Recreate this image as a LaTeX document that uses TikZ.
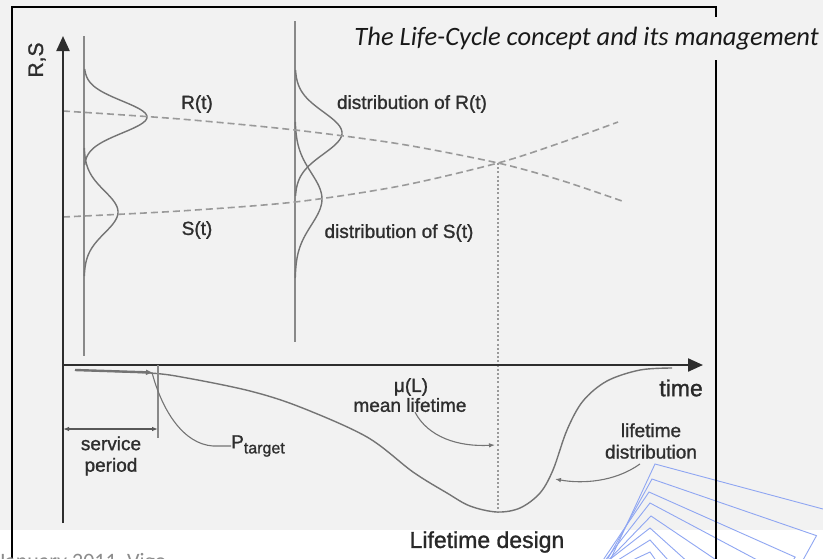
\documentclass[tikz,border=0pt]{standalone}
\usepackage{fontspec}
\setmainfont{Liberation Sans}
\newfontfamily\chartfont[FakeBold=1.2]{Liberation Sans}
\newfontfamily\calib{Carlito}
\usetikzlibrary{arrows.meta}
\definecolor{bg}{HTML}{F2F2F2}
\definecolor{ln}{HTML}{747474}
\definecolor{dk}{HTML}{2E2E2E}
\definecolor{dsh}{HTML}{9A9A9A}
\definecolor{blu}{HTML}{8FA6F2}
\definecolor{dategray}{HTML}{8C8C8C}
\begin{document}
\begin{tikzpicture}[x=1pt,y=-1pt,
  lbl/.style={font=\chartfont\fontsize{19}{21}\selectfont, text=dk, inner sep=0pt, align=center},
  big/.style={font=\chartfont\fontsize{23}{25}\selectfont, text=dk!90!black, inner sep=0pt},
  axis/.style={dk, line width=2.2pt},
  vline/.style={ln!85, line width=1.5pt},
  curve/.style={ln, line width=1.4pt},
  dashline/.style={dsh, line width=1.6pt, dash pattern=on 7pt off 4pt},
  dotline/.style={dsh, line width=1.6pt, dash pattern=on 2pt off 2.2pt},
  lead/.style={ln, line width=1.1pt},
  tip/.style={-{Latex[length=6pt,width=4.5pt]}},
  frame/.style={black, line width=1.1pt},
  deco/.style={blu, line width=0.9pt}]
\useasboundingbox (0,0) rectangle (823,558);
\fill[bg] (0,0) rectangle (823,530);
\fill[white] (0,530) rectangle (823,558);

% decorative blue squares
\begin{scope}
\clip (0,0) rectangle (823,558);
\foreach \vx/\vy/\a/\s in {655/464/15/200, 652/479/19/174, 649/492/24/160, 650/503/28/140, 651/516/34/120, 650/528/42/100, 650/540/48/80, 650/552/55/60}{
  \pgfmathsetmacro\bb{\a+100}
  \pgfmathsetmacro\cc{\a+180}
  \draw[deco] (\vx,\vy) -- ++(\a:\s) -- ++(\bb:\s) -- ++(\cc:\s) -- cycle;
}
\end{scope}

% frame
\draw[frame] (716,17) -- (716,7) -- (12,7) -- (12,560);
\draw[frame] (716,60) -- (716,560);

% title and date
\node[anchor=base east, inner sep=0pt, text=black!90, font=\calib\itshape\fontsize{26.5}{28}\selectfont] (title) at (819,45) {The Life-Cycle concept and its management};
\node[anchor=base west, inner sep=0pt, text=dategray, font=\calib\fontsize{22}{24}\selectfont] (date) at (-2,568) {January 2011, Vigo};

% distribution vertical lines
\draw[vline] (84,36) -- (84,356);
\draw[vline] (295,21) -- (295,342);

% bells at line 1
\draw[curve] plot[domain=69:165, samples=60, smooth] ({84+63*exp(-0.5*((\x-117)/16)^2)}, \x);
\draw[curve] plot[domain=148:276, samples=60, smooth] ({84+34*exp(-0.5*((\x-212)/21)^2)}, \x);
% bells at line 2
\draw[curve] plot[domain=70:196, samples=60, smooth] ({295+47*exp(-0.5*((\x-133)/21)^2)}, \x);
\draw[curve] plot[domain=122:278, samples=60, smooth] ({295+27*exp(-0.5*((\x-199)/26)^2)}, \x);

% R(t) and S(t) dashed lines
\coordinate (cross) at (498,163);
\draw[dashline] plot[smooth] coordinates {(63,111) (180,119) (295,130) (400,144) (cross) (560,180) (622,201)};
\draw[dashline] plot[smooth] coordinates {(63,217) (180,211) (295,202) (400,186) (cross) (560,143) (618,122)};
\coordinate (bottomdot) at (498,512);
\draw[dotline] (cross) -- (bottomdot);

% axes
\coordinate (origin) at (63,365);
\coordinate (ytop) at (63,36);
\coordinate (xend) at (703,365);
\draw[axis, -{Triangle[length=15pt,width=13pt]}] (63,523) -- (ytop);
\draw[axis, -{Triangle[length=15pt,width=13pt]}] (origin) -- (xend);

% lifetime curve
\draw[curve] plot[smooth, tension=0.55] coordinates {(75,370) (150,373) (187,378) (250,391) (300,407) (367,437) (413,472) (447,493) (470,506) (497,512) (520,508) (540,493) (553,470) (567,430) (583,401) (607,381) (640,370) (672,368)};
\coordinate (thick0) at (75,370);
\coordinate (thick1) at (152,372.5);
\draw[ln, line width=2.4pt, -{Triangle[length=6pt,width=5pt]}] (thick0) -- (thick1);

% service period
\coordinate (sv0) at (158,365);
\coordinate (sv1) at (158,438);
\draw[vline] (sv0) -- (sv1);
\coordinate (sa) at (63,429);
\coordinate (sb) at (158,429);
\draw[dk!80, line width=1.1pt, {Latex[length=6pt,width=4.5pt]}-{Latex[length=6pt,width=4.5pt]}] (sa) -- (sb);

% labels
\node[lbl, rotate=90, font=\chartfont\fontsize{21}{23}\selectfont] (rs) at (37,60) {R,S};
\node[big, anchor=east] (time) at (703,388) {time};
\node[lbl] (rt) at (197,104) {R(t)};
\node[lbl] (st) at (197,230) {S(t)};
\node[lbl] (dr) at (412,104) {distribution of R(t)};
\node[lbl] (ds) at (399,233) {distribution of S(t)};
\node[lbl] (mu) at (411,387) {μ(L)};
\node[lbl] (mean) at (410,405) {mean lifetime};
\node[lbl, font=\chartfont\fontsize{19}{21.5}\selectfont] (service) at (111,456) {service\\period};
\node[lbl, anchor=west] (pt) at (231,446) {P\raisebox{-5pt}{\fontsize{16}{16}\selectfont target}};
\node[lbl, font=\chartfont\fontsize{19}{21.5}\selectfont] (ltd) at (651,441) {lifetime\\distribution};
\node[big] (design) at (487,542) {Lifetime design};

% leaders
\draw[lead] (pt.west) -- (213,446) .. controls (183,444) and (162,410) .. (thick1);
\coordinate (mtip) at (495,445);
\draw[lead, tip] ([xshift=5pt]mean.south) .. controls (428,437) and (458,447) .. (mtip);
\coordinate (ltip) at (555,479);
\draw[lead, tip] ([xshift=-11pt,yshift=-5pt]ltd.south) .. controls (615,482) and (582,484) .. (ltip);
\end{tikzpicture}
\end{document}
